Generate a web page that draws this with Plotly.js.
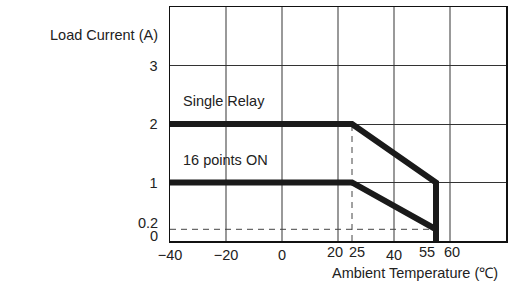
<!DOCTYPE html>
<html>
<head>
<meta charset="utf-8">
<script src="https://cdn.plot.ly/plotly-3.0.1.min.js"></script>
<style>html,body{margin:0;padding:0;background:#fff}#chart{width:509px;height:293px}</style>
</head>
<body>
<div id="chart"></div>
<script>
// Data
const singleRelayX = [-40, 25, 55, 55];
const singleRelayY = [2, 2, 1, 0];
const pointsOnX = [-40, 25, 55, 55];
const pointsOnY = [1, 1, 0.2, 0];
const dashVX = [25, 25];
const dashVY = [0, 2];
const dashHX = [-40, 55];
const dashHY = [0.2, 0.2];
const xGridVals = [-40, -20, 0, 20, 40, 60, 80];
const xGridText = ['\u221240', '\u221220', '0', '', '40', '', ''];
const xExtraTicks = [20, 25, 55, 60];
const xExtraText = ['20', '25', '55', '60'];
const xExtraShift = [-3, 5, -9, 2];
const yTickVals = [1, 2, 3];
const yTickText = ['1', '2', '3'];
const yExtraTicks = [0, 0.2];
const yExtraText = ['0', '0.2'];
const yExtraShift = [5, 6];
const yGridVals = [1, 2, 3, 4];
const seriesLabels = ['Single Relay', '16 points ON'];

const font = {family: 'Liberation Sans, Arial, sans-serif', size: 14.5, color: '#222'};

const traces = [
  {x: dashVX, y: dashVY, mode: 'lines', line: {color: '#444', width: 1, dash: '6px,5px'}, hoverinfo: 'skip'},
  {x: dashHX, y: dashHY, mode: 'lines', line: {color: '#444', width: 1, dash: '6px,5px'}, hoverinfo: 'skip'},
  {x: singleRelayX, y: singleRelayY, mode: 'lines', line: {color: '#1a1a1a', width: 6}, name: seriesLabels[0]},
  {x: pointsOnX, y: pointsOnY, mode: 'lines', line: {color: '#1a1a1a', width: 6}, name: seriesLabels[1]}
];

const annotations = [
  {text: 'Load Current (A)', xref: 'paper', yref: 'paper', x: -0.03, y: 0.88, xanchor: 'right', yanchor: 'middle', showarrow: false, font: font},
  {text: 'Ambient Temperature (\u2103)', xref: 'paper', yref: 'paper', x: 0.982, y: -0.137, xanchor: 'right', yanchor: 'middle', showarrow: false, font: font},
  {text: seriesLabels[0], xref: 'x', yref: 'y', x: -36, y: 2.39, xanchor: 'left', yanchor: 'middle', showarrow: false, font: font},
  {text: seriesLabels[1], xref: 'x', yref: 'y', x: -36, y: 1.38, xanchor: 'left', yanchor: 'middle', showarrow: false, font: font}
];
xExtraTicks.forEach((v, i) => {
  annotations.push({text: xExtraText[i], xref: 'x', yref: 'paper', x: v, y: -0.045, xanchor: 'center', yanchor: 'middle', xshift: xExtraShift[i], showarrow: false, font: font});
});
yExtraTicks.forEach((v, i) => {
  annotations.push({text: yExtraText[i], xref: 'paper', yref: 'y', x: -0.03, y: v, xanchor: 'right', yanchor: 'middle', yshift: yExtraShift[i], showarrow: false, font: font});
});

const layout = {
  width: 509, height: 293,
  margin: {l: 170, r: 3, t: 7, b: 52},
  paper_bgcolor: '#fff', plot_bgcolor: '#fff',
  showlegend: false,
  font: font,
  xaxis: {
    range: [-40, 80], tickvals: xGridVals, ticktext: xGridText,
    showgrid: true, gridcolor: '#999', gridwidth: 1.5,
    zeroline: false, showline: true, linecolor: '#111', linewidth: 1.5, mirror: true,
    ticks: '', tickfont: font, fixedrange: true
  },
  yaxis: {
    range: [0, 4], tickvals: yTickVals, ticktext: yTickText,
    showgrid: false, zeroline: false, showline: true, linecolor: '#111', linewidth: 1.5, mirror: true,
    ticks: '', ticklabelstandoff: 8, tickfont: font, fixedrange: true
  },
  yaxis2: {
    range: [0, 4], overlaying: 'y', tickvals: yGridVals, showticklabels: false,
    showgrid: true, gridcolor: '#333', gridwidth: 1, zeroline: false, showline: false, ticks: '', fixedrange: true
  },
  annotations: annotations
};

traces.unshift({x: [-40], y: [0], yaxis: 'y2', mode: 'markers', marker: {opacity: 0}, hoverinfo: 'skip'});

Plotly.newPlot('chart', traces, layout, {displayModeBar: false, staticPlot: true});
</script>
</body>
</html>
